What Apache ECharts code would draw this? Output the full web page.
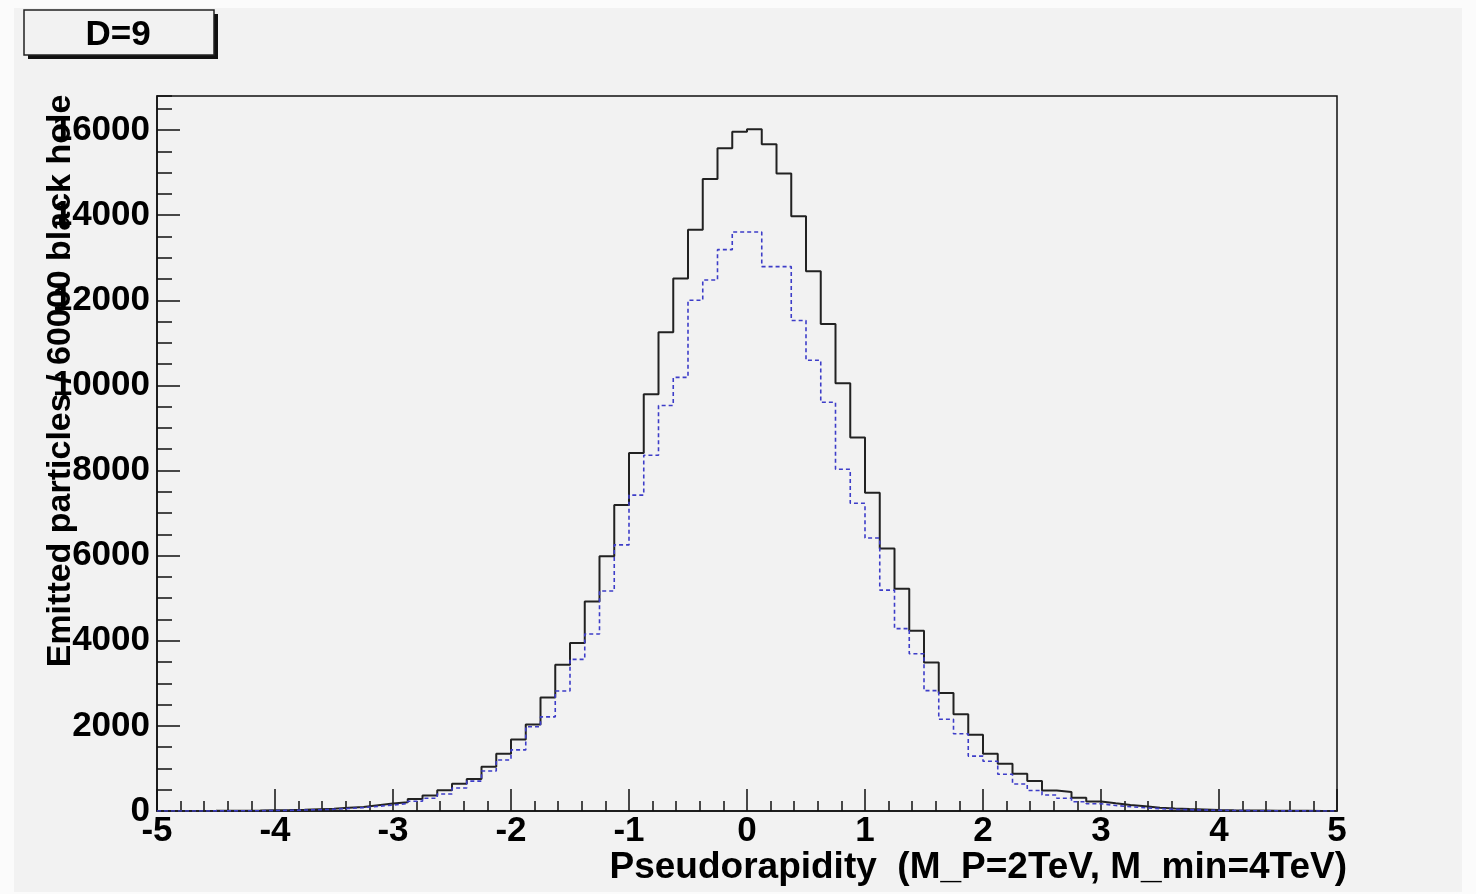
<!DOCTYPE html>
<html><head><meta charset="utf-8">
<script src="https://cdn.jsdelivr.net/npm/echarts@6/dist/echarts.min.js"></script>
<style>html,body{margin:0;padding:0;background:#fbfbfb}#c{width:1476px;height:894px}</style>
</head><body><div id="c"></div>
<script>
// Histogram: 80 bins from -5 to 5 (bin width 0.125)
const xMin = -5, xMax = 5, binWidth = 0.125;
const solidCounts = [1,1,2,3,5,8,12,18,22,30,
  41,52,75,95,135,175,205,280,365,490,
  640,750,1040,1345,1682,2035,2669,3435,3946,4924,
  5987,7189,8412,9795,11250,12510,13655,14848,15575,15960,
  16017,15665,14980,13972,12680,11443,10050,8774,7476,6168,
  5222,4233,3487,2772,2272,1790,1345,1110,875,705,
  480,445,310,225,180,141,110,78,60,45,
  35,25,18,12,9,6,4,3,2,1];
const dashedCounts = [0,1,1,2,3,5,7,10,15,22,
  30,40,60,80,110,140,175,230,300,400,
  542,702,940,1200,1436,1978,2212,2818,3562,4158,
  5169,6253,7423,8359,9529,10188,12000,12476,13190,13605,
  13605,12792,12792,11525,10592,9603,8030,7232,6413,5190,
  4286,3695,2828,2156,1815,1290,1170,865,636,480,
  376,298,219,170,130,100,75,55,40,30,
  22,16,11,8,5,4,3,2,1,1];
const titleText = 'D=9';
const xTitle = 'Pseudorapidity  (M_P=2TeV, M_min=4TeV)';
const yTitle = 'Emitted particles / 60000 black hole';

function toSteps(counts) {
  const pts = counts.map((v, i) => [xMin + i * binWidth, v]);
  pts.push([xMax, counts[counts.length - 1]]);
  return pts;
}
const FONT = "'Liberation Sans', Arial, Helvetica, sans-serif";
const chart = echarts.init(document.getElementById('c'), null, {renderer: 'canvas'});
chart.setOption({
  animation: false,
  backgroundColor: 'transparent',
  grid: {left: 157, right: 139, top: 96, bottom: 83, show: true, borderColor: '#111', borderWidth: 1.5, backgroundColor: 'transparent'},
  xAxis: {
    type: 'value', min: xMin, max: xMax, interval: 1,
    axisLine: {show: true, onZero: false, lineStyle: {color: '#111', width: 1.5}},
    axisTick: {show: true, inside: true, length: 22, lineStyle: {color: '#111', width: 1.5}},
    minorTick: {show: true, splitNumber: 5, length: 10, lineStyle: {color: '#111', width: 1.5}},
    splitLine: {show: false}, minorSplitLine: {show: false},
    axisLabel: {color: '#000', fontFamily: FONT, fontWeight: 'bold', fontSize: 35, margin: 3}
  },
  yAxis: [{
    type: 'value', min: 0, max: 16800, interval: 2000, position: 'left',
    axisLine: {show: true, onZero: false, lineStyle: {color: '#111', width: 1.5}},
    axisTick: {show: true, inside: true, length: 23, lineStyle: {color: '#111', width: 1.5}},
    splitLine: {show: false},
    axisLabel: {color: '#000', fontFamily: FONT, fontWeight: 'bold', fontSize: 35, margin: 7, showMaxLabel: false,
      formatter: v => String(v)}
  }, {
    type: 'value', min: 0, max: 16800, interval: 500, position: 'left', offset: 0,
    axisLine: {show: false, onZero: false},
    axisTick: {show: true, inside: true, length: 15, lineStyle: {color: '#111', width: 1.5}},
    splitLine: {show: false},
    axisLabel: {show: false}
  }],
  series: [{
    type: 'line', step: 'end', symbol: 'none', data: toSteps(solidCounts),
    lineStyle: {color: '#222', width: 2}, z: 3
  }, {
    type: 'line', step: 'end', symbol: 'none', data: toSteps(dashedCounts),
    lineStyle: {color: '#3d3dc8', width: 1.6, type: [4, 3]}, z: 4
  }],
  graphic: [
    {type: 'rect', z: -10, silent: true, shape: {x: 14, y: 8, width: 1448, height: 884}, style: {fill: '#f2f2f2'}},
    {type: 'rect', z: 10, shape: {x: 28, y: 14, width: 190, height: 45}, style: {fill: '#111'}},
    {type: 'rect', z: 11, shape: {x: 24, y: 10, width: 190, height: 45}, style: {fill: '#f2f2f2', stroke: '#222', lineWidth: 1.5}},
    {type: 'text', z: 12, x: 118, y: 35, style: {text: titleText, fill: '#000', font: 'bold 35px ' + FONT, textAlign: 'center', textVerticalAlign: 'middle'}},
    {type: 'text', z: 12, x: 61, y: 381, rotation: Math.PI / 2, style: {text: yTitle, fill: '#000', font: 'bold 34px ' + FONT, textAlign: 'center', textVerticalAlign: 'middle'}},
    {type: 'text', z: 12, x: 1347, y: 868, style: {text: xTitle, fill: '#000', font: 'bold 37px ' + FONT, textAlign: 'right', textVerticalAlign: 'middle'}}
  ]
});
</script></body></html>
